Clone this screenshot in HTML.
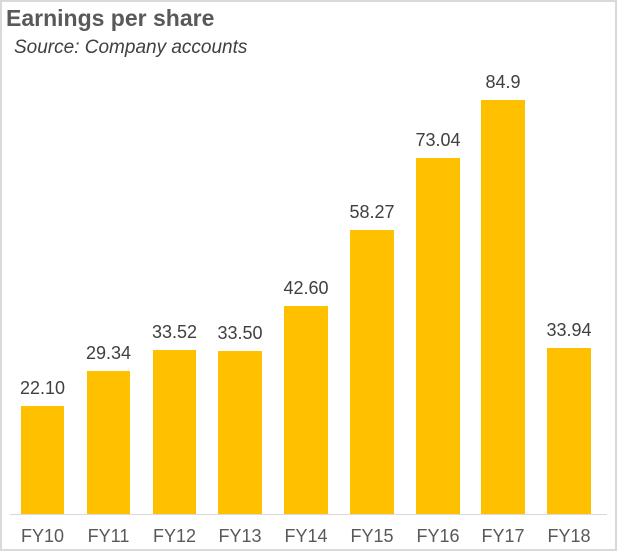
<!DOCTYPE html>
<html><head><style>
html,body{margin:0;padding:0;background:#fff;}
</style></head><body>
<svg width="617" height="551" xmlns="http://www.w3.org/2000/svg" font-family="Liberation Sans, Arial, sans-serif">
<rect x="1" y="1" width="615" height="549" fill="#fff" stroke="#d9d9d9" stroke-width="2"/>
<text x="6" y="26" font-size="23" font-weight="bold" fill="#595959">Earnings per share</text>
<text x="14" y="53" font-size="19" font-style="italic" fill="#404040">Source: Company accounts</text>
<line x1="10" y1="514.5" x2="607" y2="514.5" stroke="#d9d9d9" stroke-width="1"/>
<g fill="#FFC000">
<rect x="21" y="406" width="43" height="108"/>
<rect x="87" y="371" width="43" height="143"/>
<rect x="153" y="350" width="43" height="164"/>
<rect x="218" y="351" width="44" height="163"/>
<rect x="284" y="306" width="44" height="208"/>
<rect x="350" y="230" width="44" height="284"/>
<rect x="416" y="158" width="44" height="356"/>
<rect x="481" y="100" width="44" height="414"/>
<rect x="547" y="348" width="44" height="166"/>
</g>
<g font-size="18" fill="#404040" text-anchor="middle">
<text x="42.5" y="394">22.10</text>
<text x="108.5" y="359">29.34</text>
<text x="174.5" y="338">33.52</text>
<text x="240" y="339">33.50</text>
<text x="306" y="294">42.60</text>
<text x="372" y="218">58.27</text>
<text x="438" y="146">73.04</text>
<text x="503" y="88">84.9</text>
<text x="569" y="336">33.94</text>
</g>
<g font-size="18" fill="#595959" text-anchor="middle">
<text x="42.5" y="542">FY10</text>
<text x="108.5" y="542">FY11</text>
<text x="174.5" y="542">FY12</text>
<text x="240" y="542">FY13</text>
<text x="306" y="542">FY14</text>
<text x="372" y="542">FY15</text>
<text x="438" y="542">FY16</text>
<text x="503" y="542">FY17</text>
<text x="569" y="542">FY18</text>
</g>
</svg>
</body></html>
